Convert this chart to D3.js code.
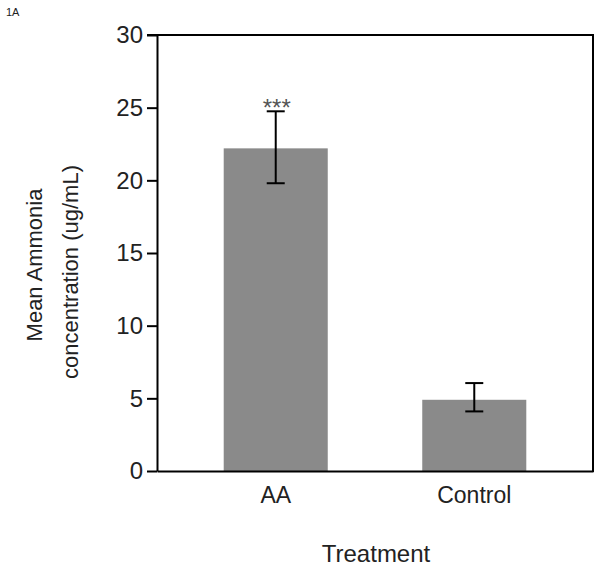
<!DOCTYPE html>
<html>
<head>
<meta charset="utf-8">
<script src="https://cdn.jsdelivr.net/npm/d3@7"></script>
<style>
  html, body { margin: 0; padding: 0; background: #fff; }
  svg { display: block; }
  text { font-family: "Liberation Sans", Arial, sans-serif; }
</style>
</head>
<body>
<svg id="chart" width="602" height="571"></svg>
<script>
const categories = ["AA", "Control"];
const means = [22.2, 4.9];
const errUpper = [24.75, 6.05];
const errLower = [19.8, 4.1];
const significance = ["***", ""];
const yTicks = [0, 5, 10, 15, 20, 25, 30];
const panelLabel = "1A";
const xTitle = "Treatment";
const yTitleLines = ["Mean Ammonia", "concentration (ug/mL)"];

const svg = d3.select("#chart");
const plotLeft = 157, plotRight = 593, plotTop = 35, plotBottom = 471;

const x = d3.scaleBand().domain(categories).range([plotLeft, plotRight])
  .paddingInner(0.476).paddingOuter(0.336);
const y = d3.scaleLinear().domain([0, 30]).range([plotBottom, plotTop]);

// bars
svg.selectAll("rect.bar").data(categories).enter().append("rect")
  .attr("class", "bar")
  .attr("x", d => x(d))
  .attr("width", x.bandwidth())
  .attr("y", (d, i) => y(means[i]))
  .attr("height", (d, i) => y(0) - y(means[i]))
  .attr("fill", "#8a8a8a");

// error bars
const cap = 9;
const eg = svg.append("g").attr("stroke", "#000").attr("stroke-width", 2).attr("fill", "none");
categories.forEach((c, i) => {
  const cx = x(c) + x.bandwidth() / 2;
  eg.append("line").attr("x1", cx).attr("x2", cx).attr("y1", y(errUpper[i])).attr("y2", y(errLower[i]));
  eg.append("line").attr("x1", cx - cap).attr("x2", cx + cap).attr("y1", y(errUpper[i])).attr("y2", y(errUpper[i]));
  eg.append("line").attr("x1", cx - cap).attr("x2", cx + cap).attr("y1", y(errLower[i])).attr("y2", y(errLower[i]));
  if (significance[i]) {
    svg.append("text").attr("x", cx + 1).attr("y", y(errUpper[i]) + 5)
      .attr("text-anchor", "middle").attr("font-size", 24).attr("fill", "#555")
      .text(significance[i]);
  }
});

// y axis
const yAxis = d3.axisLeft(y).tickValues(yTicks).tickSize(10).tickPadding(4).tickSizeOuter(0);
const ga = svg.append("g").attr("transform", `translate(${plotLeft},0)`).call(yAxis);
ga.select(".domain").attr("stroke", "#000").attr("stroke-width", 2);
ga.selectAll(".tick line").attr("stroke", "#000").attr("stroke-width", 2);
ga.selectAll(".tick text").attr("font-size", 24).attr("fill", "#222")
  .attr("font-family", "Liberation Sans, Arial, sans-serif");

// x axis (no ticks)
const xAxis = d3.axisBottom(x).tickSize(0).tickPadding(16).tickSizeOuter(0);
const gx = svg.append("g").attr("transform", `translate(0,${plotBottom})`).call(xAxis);
gx.select(".domain").attr("stroke", "#000").attr("stroke-width", 2);
gx.selectAll(".tick text").attr("font-size", 23).attr("fill", "#222")
  .attr("font-family", "Liberation Sans, Arial, sans-serif");

// frame top and right
svg.append("line").attr("x1", plotLeft - 10).attr("x2", plotRight).attr("y1", plotTop).attr("y2", plotTop)
  .attr("stroke", "#000").attr("stroke-width", 2);
svg.append("line").attr("x1", plotRight).attr("x2", plotRight).attr("y1", plotTop - 1).attr("y2", plotBottom + 1)
  .attr("stroke", "#000").attr("stroke-width", 2);

// titles
svg.append("text").attr("x", (plotLeft + plotRight) / 2 + 1).attr("y", 562)
  .attr("text-anchor", "middle").attr("font-size", 24).attr("fill", "#222").text(xTitle);

const yTitleX = [42, 78];
yTitleLines.forEach((t, i) => {
  svg.append("text").attr("transform", `translate(${yTitleX[i]},${i === 0 ? 265 : 272}) rotate(-90)`)
    .attr("text-anchor", "middle").attr("font-size", 22).attr("fill", "#222").text(t);
});

svg.append("text").attr("x", 6).attr("y", 16).attr("font-size", 11).attr("fill", "#222")
  .attr("font-family", "Open Sans, sans-serif").text(panelLabel);
</script>
</body>
</html>
